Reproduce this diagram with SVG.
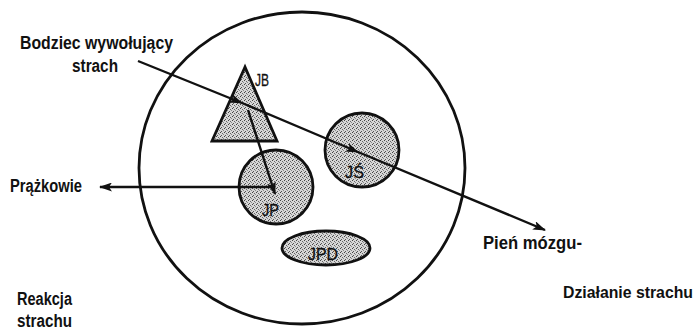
<svg xmlns="http://www.w3.org/2000/svg" width="700" height="331" viewBox="0 0 700 331">
<style>
.lbl{font-family:"Liberation Sans",Arial,sans-serif;font-weight:bold;font-size:18px;fill:#111}
.nlbl{font-family:"Liberation Sans",Arial,sans-serif;font-size:17px;fill:#111;stroke:#111;stroke-width:0.3}
.shape{fill:url(#stip);stroke:#111;stroke-width:2.8}
.conn{fill:none;stroke:#111;stroke-width:2.4}
</style>
<defs>
<pattern id="stip" width="4" height="4" patternUnits="userSpaceOnUse">
<rect width="4" height="4" fill="#d6d6d6"/>
<rect x="0" y="0" width="1" height="1" fill="#444"/>
<rect x="2" y="1" width="1" height="1" fill="#666"/>
<rect x="1" y="3" width="1" height="1" fill="#555"/>
<rect x="3" y="2" width="1" height="1" fill="#888"/>
</pattern>
<marker id="ah" markerWidth="13" markerHeight="9" refX="12" refY="4.5" orient="auto" markerUnits="userSpaceOnUse">
<path d="M0,0 L13,4.5 L0,9 L3,4.5 Z" fill="#111"/>
</marker>
</defs>
<g id="brain"><ellipse cx="302" cy="168" rx="163" ry="156" fill="none" stroke="#111" stroke-width="2.8"/></g>
<g id="JB"><polygon class="shape" points="245,67 212,141 277,141"/><text class="nlbl" x="255" y="86" textLength="14" lengthAdjust="spacingAndGlyphs">JB</text></g>
<g id="JP"><circle class="shape" cx="276" cy="187" r="37"/><text class="nlbl" x="262" y="216" textLength="17" lengthAdjust="spacingAndGlyphs">JP</text></g>
<g id="JS"><circle class="shape" cx="362" cy="150" r="37"/><text class="nlbl" x="345" y="178" textLength="19" lengthAdjust="spacingAndGlyphs">JŚ</text></g>
<g id="JPD"><ellipse class="shape" cx="326" cy="248" rx="44" ry="17"/><text class="nlbl" x="308" y="260" textLength="30" lengthAdjust="spacingAndGlyphs">JPD</text></g>
<g id="connectors">
<polyline class="conn" points="138,61 242,103 358,152 545,230" marker-mid="url(#ah)" marker-end="url(#ah)"/>
<line class="conn" x1="248" y1="110" x2="275" y2="194" marker-end="url(#ah)"/>
<line class="conn" x1="270" y1="187" x2="100" y2="187" marker-end="url(#ah)"/>
</g>
<g id="labels">
<text class="lbl" x="20" y="49" textLength="153" lengthAdjust="spacingAndGlyphs">Bodziec wywołujący</text>
<text class="lbl" x="72" y="72" textLength="46" lengthAdjust="spacingAndGlyphs">strach</text>
<text class="lbl" x="10" y="192" textLength="72" lengthAdjust="spacingAndGlyphs">Prążkowie</text>
<text class="lbl" x="483" y="249" textLength="99" lengthAdjust="spacingAndGlyphs">Pień mózgu-</text>
<text class="lbl" x="563" y="298" style="font-size:16px" textLength="130" lengthAdjust="spacingAndGlyphs">Działanie strachu</text>
<text class="lbl" x="17" y="305" textLength="55" lengthAdjust="spacingAndGlyphs">Reakcja</text>
<text class="lbl" x="17" y="327" textLength="55" lengthAdjust="spacingAndGlyphs">strachu</text>
</g>
</svg>
